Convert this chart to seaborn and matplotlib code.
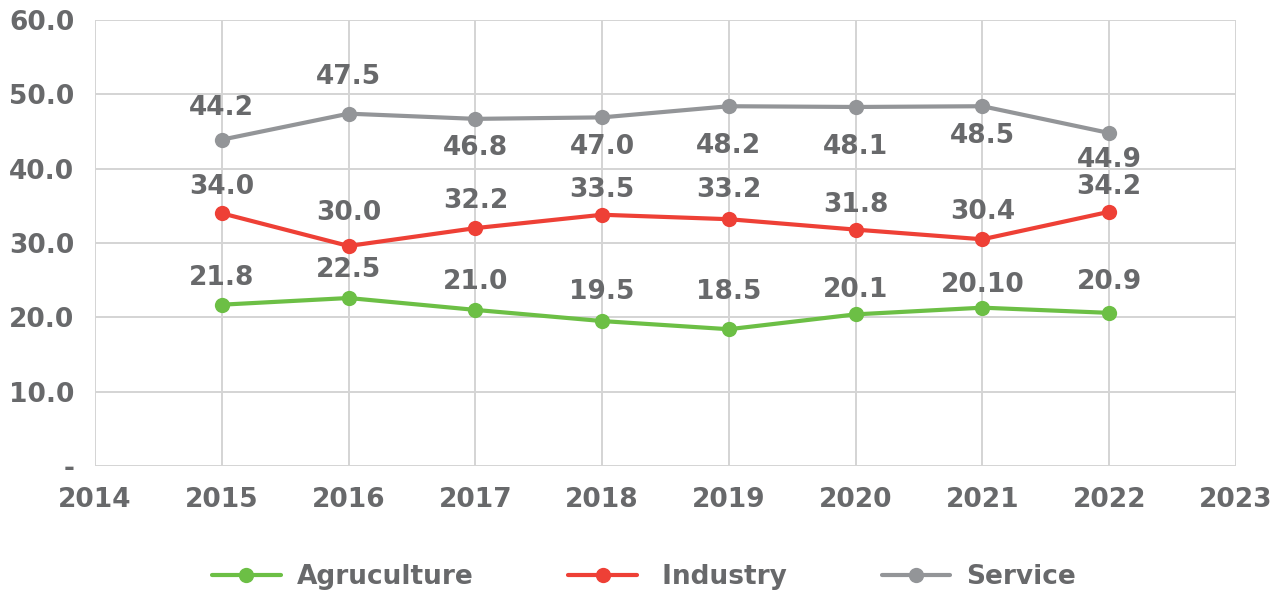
import matplotlib
matplotlib.use("Agg")
import matplotlib.pyplot as plt
import seaborn as sns
import pandas as pd

years = [2015, 2016, 2017, 2018, 2019, 2020, 2021, 2022]
series_names = ["Agruculture", " Industry", "Service"]
agriculture = [21.7, 22.6, 21.0, 19.5, 18.4, 20.4, 21.3, 20.6]
industry = [34.0, 29.6, 32.0, 33.8, 33.2, 31.8, 30.5, 34.2]
service = [43.9, 47.4, 46.7, 46.9, 48.4, 48.3, 48.4, 44.8]
agriculture_labels = ["21.8", "22.5", "21.0", "19.5", "18.5", "20.1", "20.10", "20.9"]
industry_labels = ["34.0", "30.0", "32.2", "33.5", "33.2", "31.8", "30.4", "34.2"]
service_labels = ["44.2", "47.5", "46.8", "47.0", "48.2", "48.1", "48.5", "44.9"]
y_ticks = [0, 10, 20, 30, 40, 50, 60]
y_tick_labels = ["-", "10.0", "20.0", "30.0", "40.0", "50.0", "60.0"]
x_ticks = list(range(2014, 2024))

colors = {"Agruculture": "#6CBF45", " Industry": "#EE4036", "Service": "#939598"}
text_color = "#68696B"

# label offsets in pixels (positive = above)
agri_off = [27, 28, 28, 29, 37, 24, 23, 31]
ind_off = [26, 33, 27, 25, 29, 25, 27, 25]
serv_off = [32, 37, -29, -30, -40, -40, -30, -27]

df = pd.concat([
    pd.DataFrame({"Year": years, "Value": agriculture, "Sector": series_names[0]}),
    pd.DataFrame({"Year": years, "Value": industry, "Sector": series_names[1]}),
    pd.DataFrame({"Year": years, "Value": service, "Sector": series_names[2]}),
])

sns.set_theme(style="white")
plt.rcParams["font.family"] = ["DejaVu Sans"]

fig = plt.figure(figsize=(12.88, 5.94), dpi=100)
ax = fig.add_axes([95 / 1288, 128 / 594, (1236 - 95) / 1288, (466 - 20) / 594])

sns.lineplot(data=df, x="Year", y="Value", hue="Sector", palette=colors,
             marker="o", markersize=11, markeredgewidth=0, linewidth=3,
             ax=ax, legend=True)

ax.set_xlim(2014, 2023)
ax.set_ylim(0, 60)
ax.set_xticks(x_ticks)
ax.set_xticklabels([str(x) for x in x_ticks])
ax.set_yticks(y_ticks)
ax.set_yticklabels(y_tick_labels)
ax.grid(True, color="#D4D4D4", linewidth=1.4)
ax.set_axisbelow(True)
for s in ax.spines.values():
    s.set_visible(False)
ax.tick_params(axis="both", length=0, labelsize=19, colors=text_color, pad=15)
for t in ax.get_xticklabels() + ax.get_yticklabels():
    t.set_fontweight("bold")
ax.set_xlabel("")
ax.set_ylabel("")

px2pt = 72 / 100
for vals, labs, offs in [(agriculture, agriculture_labels, agri_off),
                         (industry, industry_labels, ind_off),
                         (service, service_labels, serv_off)]:
    for x, v, lab, o in zip(years, vals, labs, offs):
        ax.annotate(lab, (x, v), xytext=(0, o * px2pt), textcoords="offset points",
                    ha="center", va="center", fontsize=19, color=text_color,
                    fontweight="bold")

handles, labels = ax.get_legend_handles_labels()
ax.get_legend().remove()
leg = fig.legend(handles, labels, loc="center", bbox_to_anchor=(0.5, 17 / 594), ncol=3,
                 frameon=False, fontsize=19, handlelength=2.6, handletextpad=0.6,
                 columnspacing=3.6, labelcolor=text_color)
for t in leg.get_texts():
    t.set_fontweight("bold")

fig.savefig("out.png", dpi=100)
